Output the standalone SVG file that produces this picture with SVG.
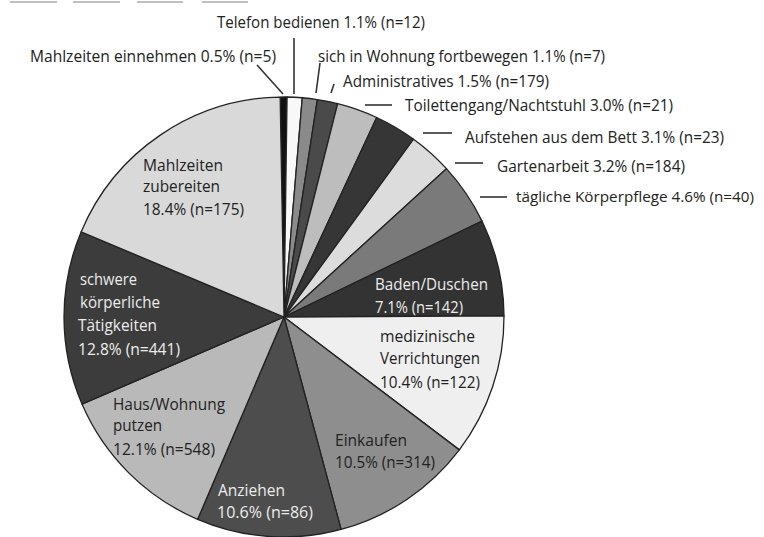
<svg xmlns="http://www.w3.org/2000/svg" width="764" height="537" viewBox="0 0 764 537">
<style>
text{font-family:"Open Sans","Noto Sans","Liberation Sans",sans-serif;font-size:16px;fill:#222}
.w{fill:#ececec}
.s{stroke:#222;stroke-width:1.3;stroke-linejoin:round}
.ld{stroke:#333;stroke-width:1.6;fill:none}
.top{stroke:#aaa;stroke-width:1.5}
</style>
<rect width="764" height="537" fill="#fff"/>
<g id="crop-marks">
<line class="top" x1="10" y1="2" x2="57" y2="2"/>
<line class="top" x1="73" y1="2" x2="120" y2="2"/>
<line class="top" x1="137" y1="2" x2="183" y2="2"/>
<line class="top" x1="202" y1="2" x2="248" y2="2"/>
</g>
<g id="s-einnehmen"><path class="s" fill="#111" d="M284 317 L280.16 97.03 A220 220 0 0 1 287.07 97.02 Z"/></g>
<g id="s-telefon"><path class="s" fill="#f8f8f8" d="M284 317 L287.07 97.02 A220 220 0 0 1 302.26 97.76 Z"/></g>
<g id="s-wohnung"><path class="s" fill="#8a8a8a" d="M284 317 L302.26 97.76 A220 220 0 0 1 317.35 99.54 Z"/></g>
<g id="s-admin"><path class="s" fill="#4a4a4a" d="M284 317 L317.35 99.54 A220 220 0 0 1 337.67 103.65 Z"/></g>
<g id="s-toilette"><path class="s" fill="#bdbdbd" d="M284 317 L337.67 103.65 A220 220 0 0 1 376.69 117.48 Z"/></g>
<g id="s-aufstehen"><path class="s" fill="#363636" d="M284 317 L376.69 117.48 A220 220 0 0 1 413.57 139.20 Z"/></g>
<g id="s-garten"><path class="s" fill="#dcdcdc" d="M284 317 L413.57 139.20 A220 220 0 0 1 446.46 168.65 Z"/></g>
<g id="s-koerperpflege"><path class="s" fill="#7a7a7a" d="M284 317 L446.46 168.65 A220 220 0 0 1 482.01 221.13 Z"/></g>
<g id="s-baden"><path class="s" fill="#333" d="M284 317 L482.01 221.13 A220 220 0 0 1 504.00 315.92 Z"/>
<text class="w" x="375" y="290" textLength="113" lengthAdjust="spacingAndGlyphs">Baden/Duschen</text>
<text class="w" x="375" y="313" textLength="88" lengthAdjust="spacingAndGlyphs">7.1% (n=142)</text></g>
<g id="s-medizin"><path class="s" fill="#efefef" d="M284 317 L504.00 315.92 A220 220 0 0 1 459.34 449.87 Z"/>
<text x="380" y="342" textLength="95" lengthAdjust="spacingAndGlyphs">medizinische</text>
<text x="380" y="364" textLength="100" lengthAdjust="spacingAndGlyphs">Verrichtungen</text>
<text x="380" y="388" textLength="100" lengthAdjust="spacingAndGlyphs">10.4% (n=122)</text></g>
<g id="s-einkaufen"><path class="s" fill="#8e8e8e" d="M284 317 L459.34 449.87 A220 220 0 0 1 341.09 529.46 Z"/>
<text x="335" y="446" textLength="72" lengthAdjust="spacingAndGlyphs">Einkaufen</text>
<text x="335" y="468" textLength="100" lengthAdjust="spacingAndGlyphs">10.5% (n=314)</text></g>
<g id="s-anziehen"><path class="s" fill="#4d4d4d" d="M284 317 L341.09 529.46 A220 220 0 0 1 197.62 519.33 Z"/>
<text class="w" x="218" y="496" textLength="67" lengthAdjust="spacingAndGlyphs">Anziehen</text>
<text class="w" x="217" y="518" textLength="96" lengthAdjust="spacingAndGlyphs">10.6% (n=86)</text></g>
<g id="s-haus"><path class="s" fill="#b9b9b9" d="M284 317 L197.62 519.33 A220 220 0 0 1 81.98 404.10 Z"/>
<text x="113" y="410" textLength="112" lengthAdjust="spacingAndGlyphs">Haus/Wohnung</text>
<text x="113" y="431" textLength="49" lengthAdjust="spacingAndGlyphs">putzen</text>
<text x="113" y="455" textLength="102" lengthAdjust="spacingAndGlyphs">12.1% (n=548)</text></g>
<g id="s-schwere"><path class="s" fill="#3c3c3c" d="M284 317 L81.98 404.10 A220 220 0 0 1 81.12 231.92 Z"/>
<text class="w" x="80" y="285" textLength="57" lengthAdjust="spacingAndGlyphs">schwere</text>
<text class="w" x="80" y="308" textLength="80" lengthAdjust="spacingAndGlyphs">körperliche</text>
<text class="w" x="78" y="331" textLength="79" lengthAdjust="spacingAndGlyphs">Tätigkeiten</text>
<text class="w" x="78" y="355" textLength="102" lengthAdjust="spacingAndGlyphs">12.8% (n=441)</text></g>
<g id="s-zubereiten"><path class="s" fill="#d9d9d9" d="M284 317 L81.12 231.92 A220 220 0 0 1 280.16 97.03 Z"/>
<text x="143" y="171" textLength="80" lengthAdjust="spacingAndGlyphs">Mahlzeiten</text>
<text x="143" y="192" textLength="77" lengthAdjust="spacingAndGlyphs">zubereiten</text>
<text x="143" y="215" textLength="101" lengthAdjust="spacingAndGlyphs">18.4% (n=175)</text></g>
<g id="connectors">
<line class="ld" x1="257" y1="65" x2="283" y2="94"/>
<line class="ld" x1="294" y1="38" x2="294" y2="94"/>
<line class="ld" x1="320" y1="63" x2="316" y2="93"/>
<line class="ld" x1="334" y1="84" x2="331" y2="93"/>
<line class="ld" x1="365" y1="105" x2="392" y2="105"/>
<line class="ld" x1="423" y1="133" x2="452" y2="133"/>
<line class="ld" x1="455" y1="163" x2="483" y2="163"/>
<line class="ld" x1="480" y1="197" x2="507" y2="197"/>
</g>
<g id="outer-labels">
<text x="217" y="28" textLength="208" lengthAdjust="spacingAndGlyphs">Telefon bedienen 1.1% (n=12)</text>
<text x="30" y="62" textLength="246" lengthAdjust="spacingAndGlyphs">Mahlzeiten einnehmen 0.5% (n=5)</text>
<text x="318" y="62" textLength="287" lengthAdjust="spacingAndGlyphs">sich in Wohnung fortbewegen 1.1% (n=7)</text>
<text x="343" y="87" textLength="206" lengthAdjust="spacingAndGlyphs">Administratives 1.5% (n=179)</text>
<text x="405" y="111" textLength="268" lengthAdjust="spacingAndGlyphs">Toilettengang/Nachtstuhl 3.0% (n=21)</text>
<text x="465" y="143" textLength="259" lengthAdjust="spacingAndGlyphs">Aufstehen aus dem Bett 3.1% (n=23)</text>
<text x="497" y="172" textLength="188" lengthAdjust="spacingAndGlyphs">Gartenarbeit 3.2% (n=184)</text>
<text x="516" y="202" style="font-size:14px" textLength="238" lengthAdjust="spacingAndGlyphs">tägliche Körperpflege 4.6% (n=40)</text>
</g>
</svg>
